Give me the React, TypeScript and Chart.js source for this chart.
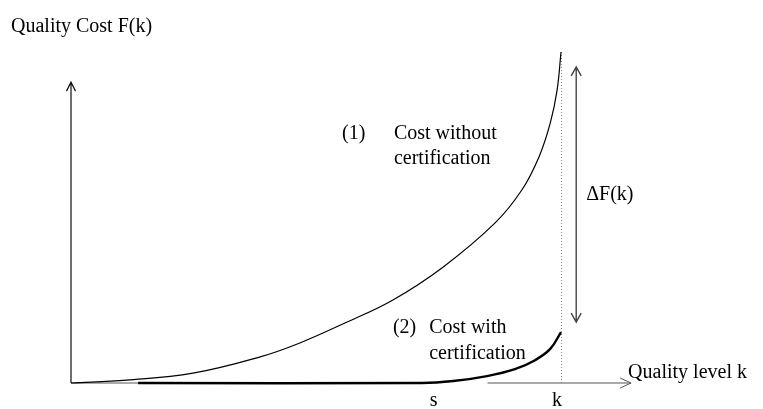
import React, { useEffect, useRef } from "react";
import { Chart, registerables } from "chart.js";

Chart.register(...registerables);

// Quality level (k = 10) and quality cost F(k)
const upperX = [0, 1.14, 2.49, 3.86, 4.67, 5.6, 6.57, 7.59, 8.65, 9.2, 9.55, 9.78, 9.92, 10];
const upperY = [0, 0.09, 0.3, 0.79, 1.21, 1.82, 2.51, 3.5, 4.83, 5.83, 6.83, 7.85, 8.85, 10];
const lowerX = [1.37, 7.16, 7.8, 8.49, 9.06, 9.47, 9.78, 10];
const lowerY = [0, 0, 0.06, 0.21, 0.42, 0.69, 1.03, 1.54];

const sLevel = 7.4;
const kLevel = 10;
const xAxisEnd = 11.43;
const yAxisEnd = 9.09;
const deltaTop = 9.55;
const deltaBottom = 1.84;
const deltaX = 10.31;
const tickLabels = ["s", "k"];

const FONT = '20px "Liberation Serif", "Times New Roman", serif';

const diagramPlugin = {
  id: "diagram",
  beforeDatasetsDraw(chart: any) {
    const { ctx } = chart;
    const xs = chart.scales.x;
    const ys = chart.scales.y;
    const px = (v: number) => xs.getPixelForValue(v);
    const py = (v: number) => ys.getPixelForValue(v);
    const x0 = px(0);
    const y0 = py(0);
    ctx.save();
    // y axis
    ctx.strokeStyle = "#111";
    ctx.lineWidth = 1.2;
    ctx.beginPath();
    ctx.moveTo(x0, y0);
    ctx.lineTo(x0, py(yAxisEnd));
    ctx.moveTo(x0 - 4.5, py(yAxisEnd) + 9);
    ctx.lineTo(x0, py(yAxisEnd));
    ctx.lineTo(x0 + 4.5, py(yAxisEnd) + 9);
    ctx.stroke();
    // x axis
    ctx.strokeStyle = "#555";
    ctx.lineWidth = 1;
    ctx.beginPath();
    ctx.moveTo(x0, y0);
    ctx.lineTo(px(7.18), y0);
    ctx.moveTo(px(8.5), y0);
    ctx.lineTo(px(xAxisEnd), y0);
    ctx.moveTo(px(xAxisEnd) - 11, y0 - 5);
    ctx.lineTo(px(xAxisEnd), y0);
    ctx.lineTo(px(xAxisEnd) - 11, y0 + 5);
    ctx.stroke();
    // dotted line at k
    ctx.strokeStyle = "#888";
    ctx.setLineDash([1, 2]);
    ctx.beginPath();
    ctx.moveTo(px(kLevel) + 0.5, py(10));
    ctx.lineTo(px(kLevel) + 0.5, y0);
    ctx.stroke();
    ctx.setLineDash([]);
    // double arrow ΔF(k)
    const ax = px(deltaX);
    const at = py(deltaTop);
    const ab = py(deltaBottom);
    ctx.strokeStyle = "#444";
    ctx.lineWidth = 1.4;
    ctx.beginPath();
    ctx.moveTo(ax, at);
    ctx.lineTo(ax, ab);
    ctx.moveTo(ax - 5, at + 9);
    ctx.lineTo(ax, at);
    ctx.lineTo(ax + 5, at + 9);
    ctx.moveTo(ax - 5, ab - 9);
    ctx.lineTo(ax, ab);
    ctx.lineTo(ax + 5, ab - 9);
    ctx.stroke();
    ctx.restore();
  },
  afterDraw(chart: any) {
    const { ctx } = chart;
    const xs = chart.scales.x;
    const ys = chart.scales.y;
    const px = (v: number) => xs.getPixelForValue(v);
    const py = (v: number) => ys.getPixelForValue(v);
    const y0 = py(0);
    ctx.save();
    ctx.fillStyle = "#000";
    ctx.font = FONT;
    ctx.textBaseline = "alphabetic";
    ctx.textAlign = "left";
    ctx.fillText("Quality Cost F(k)", 11, 32);
    ctx.fillText("Quality level k", px(xAxisEnd) - 3, y0 - 5);
    ctx.fillText("(1)", px(5.53), py(7.37));
    ctx.fillText("Cost without", px(6.59), py(7.37));
    ctx.fillText("certification", px(6.59), py(6.62));
    ctx.fillText("(2)", px(6.57), py(1.51));
    ctx.fillText("Cost with", px(7.31), py(1.51));
    ctx.fillText("certification", px(7.31), py(0.73));
    ctx.fillText("\u0394F(k)", px(deltaX) + 10, py(5.53));
    ctx.textAlign = "center";
    ctx.fillText(tickLabels[0], px(sLevel), y0 + 23);
    ctx.fillText(tickLabels[1], px(kLevel) - 4, y0 + 23);
    ctx.restore();
  },
};

export default function App() {
  const ref = useRef<HTMLCanvasElement | null>(null);
  useEffect(() => {
    if (!ref.current) return;
    const chart = new Chart(ref.current, {
      type: "line",
      data: {
        datasets: [
          {
            label: "Cost without certification",
            data: upperX.map((x, i) => ({ x, y: upperY[i] })),
            borderColor: "#000",
            borderWidth: 1.2,
            pointRadius: 0,
            tension: 0.4,
            fill: false,
          },
          {
            label: "Cost with certification",
            data: lowerX.map((x, i) => ({ x, y: lowerY[i] })),
            borderColor: "#000",
            borderWidth: 2.4,
            pointRadius: 0,
            tension: 0.4,
            fill: false,
          },
        ],
      },
      options: {
        responsive: false,
        animation: false,
        layout: { padding: 0 },
        plugins: { legend: { display: false }, tooltip: { enabled: false } },
        scales: {
          x: { type: "linear", min: -1.449, max: 14.122, display: false },
          y: { type: "linear", min: -0.785, max: 11.571, display: false },
        },
      },
      plugins: [diagramPlugin],
    } as any);
    return () => chart.destroy();
  }, []);
  return (
    <div style={{ position: "fixed", left: 0, top: 0, width: 763, height: 409, background: "#fff" }}>
      <canvas ref={ref} width={763} height={409} style={{ display: "block" }} />
    </div>
  );
}
